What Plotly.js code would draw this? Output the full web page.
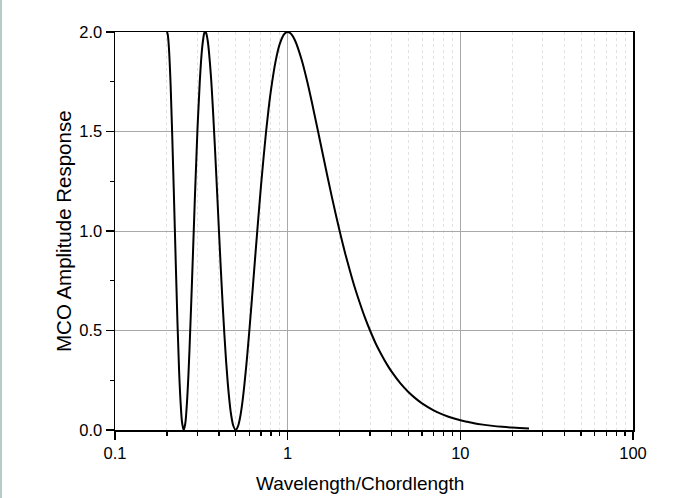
<!DOCTYPE html>
<html>
<head>
<meta charset="utf-8">
<script src="https://cdn.plot.ly/plotly-3.0.1.min.js"></script>
<style>
html,body{margin:0;padding:0;background:#fff;}
#edge{position:absolute;left:0;top:0;width:2px;height:498px;background:#b3ccc8;}
#chart{position:absolute;left:0;top:0;width:699px;height:498px;}
</style>
</head>
<body>
<div id="chart"></div>
<div id="edge"></div>
<script>
// Wavelength/Chordlength values
const wavelength = [0.2, 0.202, 0.205, 0.21, 0.215, 0.22, 0.225, 0.23, 0.235, 0.24, 0.245, 0.25,
  0.255, 0.26, 0.265, 0.27, 0.28, 0.29, 0.30, 0.31, 0.315, 0.32, 0.325, 0.329, 0.333, 0.337, 0.34, 0.345, 0.35, 0.36, 0.37,
  0.38, 0.39, 0.40, 0.41, 0.42, 0.43, 0.44, 0.45, 0.46, 0.47, 0.485, 0.5, 0.515, 0.53, 0.545, 0.56, 0.58, 0.6, 0.625, 0.65,
  0.675, 0.7, 0.725, 0.75, 0.775, 0.8, 0.85, 0.9, 0.95, 0.975, 1.0, 1.025, 1.05, 1.1, 1.2, 1.3, 1.4, 1.5, 1.6, 1.7, 1.8, 1.9, 2.0,
  2.15, 2.3, 2.45, 2.6, 2.8, 3.0, 3.25, 3.5, 3.75, 4.0, 4.5, 5.0, 5.5, 6.0, 7.0, 8.0, 9.0, 10.0, 11.0, 12.0,
  13.5, 15.0, 17.5, 20.0, 22.0, 25.0];
// MCO amplitude response
const response = [2.0, 1.988, 1.927, 1.731, 1.45, 1.143, 0.83, 0.540, 0.30, 0.134, 0.033, 0.0,
  0.03, 0.114, 0.24, 0.402, 0.777, 1.161, 1.500, 1.757, 1.852, 1.924, 1.971, 1.995, 2.0, 1.995, 1.983, 1.951, 1.901, 1.77, 1.595,
  1.401, 1.200, 1.000, 0.809, 0.635, 0.480, 0.345, 0.234, 0.146, 0.079, 0.02, 0.0, 0.018, 0.062, 0.13, 0.218, 0.352, 0.500, 0.691, 0.880,
  1.058, 1.223, 1.368, 1.500, 1.612, 1.707, 1.850, 1.940, 1.987, 1.997, 2.0, 1.997, 1.989, 1.960, 1.866, 1.749, 1.623, 1.500, 1.383, 1.274, 1.174, 1.083, 1.000,
  0.890, 0.797, 0.715, 0.646, 0.566, 0.500, 0.431, 0.377, 0.331, 0.293, 0.234, 0.191, 0.159, 0.134, 0.099, 0.076, 0.060, 0.049, 0.041, 0.034,
  0.027, 0.022, 0.016, 0.012, 0.010, 0.008];
const xTickVals = [0.1, 1, 10, 100];
const xTickText = ['0.1', '1', '10', '100'];
const yTickVals = [0, 0.5, 1.0, 1.5, 2.0];
const yTickText = ['0.0', '0.5', '1.0', '1.5', '2.0'];
const xTitle = 'Wavelength/Chordlength';
const yTitle = 'MCO Amplitude Response';

const font = 'Liberation Sans, Arial, sans-serif';

Plotly.newPlot('chart', [{
  x: wavelength,
  y: response,
  type: 'scatter',
  mode: 'lines',
  line: {color: '#000', width: 2, shape: 'spline', smoothing: 1},
  cliponaxis: true,
  hoverinfo: 'skip'
}], {
  width: 699, height: 498,
  margin: {l: 115, r: 66, t: 32, b: 68},
  paper_bgcolor: '#fff', plot_bgcolor: '#fff',
  showlegend: false,
  font: {family: font, color: '#000'},
  xaxis: {
    type: 'log', range: [-1, 2],
    tickmode: 'array', tickvals: xTickVals, ticktext: xTickText,
    ticks: 'outside', ticklen: 8, tickwidth: 1.5, tickcolor: '#000',
    tickfont: {size: 16.5, family: font, color: '#000'},
    showline: true, linecolor: '#000', linewidth: 1.5, mirror: true,
    showgrid: true, gridcolor: '#a8a8a8', gridwidth: 1,
    zeroline: false,
    minor: {dtick: 'D1', ticks: 'outside', ticklen: 4, tickwidth: 1.2, tickcolor: '#000',
            showgrid: true, gridcolor: '#e2e2e2', griddash: 'dot', gridwidth: 1}
  },
  yaxis: {
    range: [0, 2],
    tickmode: 'array', tickvals: yTickVals, ticktext: yTickText,
    ticks: 'outside', ticklen: 8, tickwidth: 1.5, tickcolor: '#000',
    tickfont: {size: 16.5, family: font, color: '#000'},
    showline: true, linecolor: '#000', linewidth: 1.5, mirror: true,
    showgrid: true, gridcolor: '#a8a8a8', gridwidth: 1,
    zeroline: false,
    minor: {dtick: 0.25, tick0: 0, ticks: 'outside', ticklen: 4, tickwidth: 1.2, tickcolor: '#000', showgrid: false}
  },
  annotations: [
    {text: xTitle, xref: 'paper', yref: 'paper', x: (360 - 115) / 518, y: (430 - 483) / 398,
     xanchor: 'center', yanchor: 'middle', showarrow: false,
     font: {size: 19, family: font, color: '#000'}},
    {text: yTitle, xref: 'paper', yref: 'paper', x: (63 - 115) / 518, y: 0.5, textangle: -90,
     xanchor: 'center', yanchor: 'middle', showarrow: false,
     font: {size: 20.5, family: font, color: '#000'}}
  ]
}, {displayModeBar: false, staticPlot: true});
</script>
</body>
</html>
